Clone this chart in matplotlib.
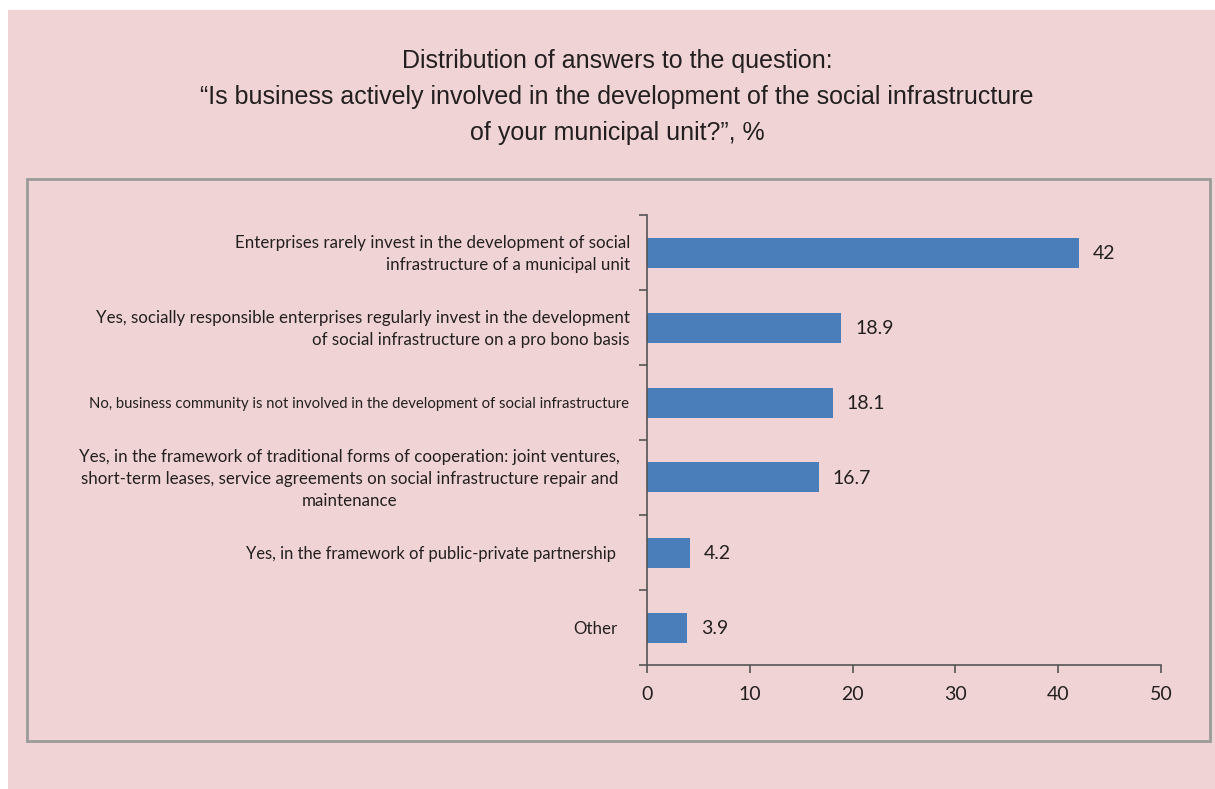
import matplotlib
matplotlib.use("Agg")
import matplotlib.pyplot as plt
from matplotlib.patches import Rectangle
import matplotlib.transforms as mtransforms

# data, top to bottom as in the chart
categories = [
    "Enterprises rarely invest in the development of social\ninfrastructure of a municipal unit",
    "Yes, socially responsible enterprises regularly invest in the development\nof social infrastructure on a pro bono basis",
    "No, business community is not involved in the development of social infrastructure",
    "Yes, in the framework of traditional forms of cooperation: joint ventures,\nshort-term leases, service agreements on social infrastructure repair and\nmaintenance",
    "Yes, in the framework of public-private partnership",
    "Other",
]
values = [42, 18.9, 18.1, 16.7, 4.2, 3.9]
value_labels = ["42", "18.9", "18.1", "16.7", "4.2", "3.9"]
xticks = [0, 10, 20, 30, 40, 50]

title = ("Distribution of answers to the question:\n"
         "\u201cIs business actively involved in the development of the social infrastructure\n"
         "of your municipal unit?\u201d, %")

bg = "#f0d4d5"
bar_color = "#4a7ebb"
text_color = "#231f20"
label_font = ["Lato", "DejaVu Sans"]

# per-label look: font size, alignment, right-edge gap (px)
label_size = [12.2, 12.2, 10.7, 12.2, 11.9, 12.2]
label_align = ["right", "right", "right", "center", "right", "right"]
label_gap = [17, 17, 18, 27, 31, 29]

fig = plt.figure(figsize=(12.15, 7.89), dpi=100)
fig.patch.set_facecolor("white")

# pink panel and the grey frame
fig.patches.append(Rectangle((8 / 1215, 0), 1 - 8 / 1215, 1 - 10 / 789,
                             transform=fig.transFigure, facecolor=bg,
                             edgecolor="none", zorder=-2))
fig.patches.append(Rectangle((27 / 1215, 1 - 741 / 789), (1210 - 27) / 1215,
                             (741 - 179) / 789, transform=fig.transFigure,
                             facecolor="none", edgecolor="#9a9a9a",
                             linewidth=2, zorder=-1))

fig.text(0.508, 1 - 49 / 789, title, ha="center", va="top", fontsize=18,
         color=text_color, linespacing=1.62,
         family=["Liberation Sans", "DejaVu Sans"])

ax = fig.add_axes([647 / 1215, 1 - 665 / 789, (1161 - 647) / 1215, (665 - 215) / 789])
ax.set_facecolor("none")

ypos = list(range(len(values)))
ax.barh(ypos, values, height=0.4, color=bar_color, zorder=2)
ax.set_ylim(len(values) - 0.5, -0.5)
ax.set_xlim(0, 50)

for y, v, t in zip(ypos, values, value_labels):
    ax.annotate(t, (v, y), xytext=(10, -1), textcoords="offset points",
                va="center", ha="left", fontsize=14, color=text_color,
                family=label_font)

trans = mtransforms.blended_transform_factory(ax.transAxes, ax.transData)
for y, lab, fs, al, gap in zip(ypos, categories, label_size, label_align, label_gap):
    ax.annotate(lab, (0, y), xycoords=trans, xytext=(-gap * 0.72, -1),
                textcoords="offset points", ha="right", va="center",
                multialignment=al, fontsize=fs, color=text_color,
                family=label_font, linespacing=1.45)

for s in ["top", "right"]:
    ax.spines[s].set_visible(False)
for s in ["left", "bottom"]:
    ax.spines[s].set_color("#555555")
    ax.spines[s].set_linewidth(1.2)

ax.set_yticks([i - 0.5 for i in range(len(values) + 1)])
ax.set_yticklabels([])
ax.tick_params(axis="y", length=6, color="#555555", width=1.2)
ax.set_xticks(xticks)
ax.set_xticklabels([str(t) for t in xticks], fontsize=14, color=text_color,
                   family=label_font)
ax.tick_params(axis="x", length=6, color="#555555", width=1.2, pad=9)

fig.savefig("out.png", dpi=100, facecolor=fig.get_facecolor())
